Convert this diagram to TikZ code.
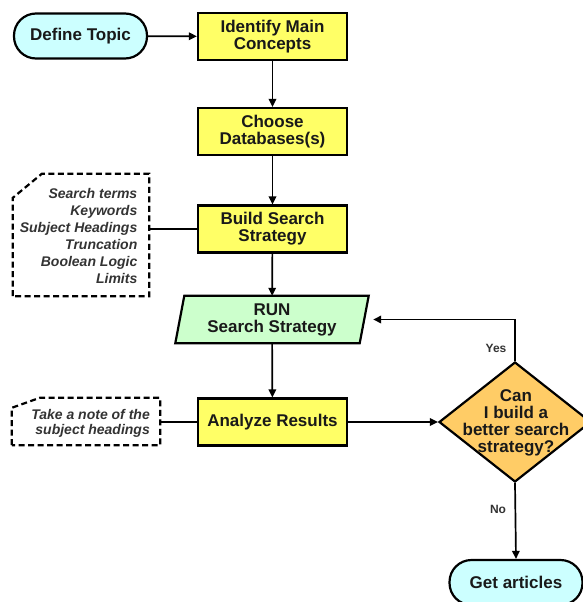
\documentclass[tikz,border=0pt]{standalone}
\usepackage{fontspec}
\setmainfont{Liberation Sans}
\usetikzlibrary{shapes.geometric,arrows.meta}
\definecolor{cyanfill}{HTML}{CCFFFF}
\definecolor{yellowfill}{HTML}{FFFF66}
\definecolor{greenfill}{HTML}{CCFFCC}
\definecolor{orangefill}{HTML}{FFCC66}
\definecolor{notegray}{HTML}{333333}
\tikzset{
  mainfont/.style={font=\bfseries\fontsize{17}{17}\selectfont, align=center, text=black!90},
  terminal/.style={mainfont, draw=black, line width=2.2pt, fill=cyanfill, rounded corners=22pt,
    minimum width=133pt, minimum height=45pt, inner sep=0pt},
  procbox/.style={mainfont, draw=black, line width=2.2pt, fill=yellowfill,
    minimum width=149pt, minimum height=47pt, inner sep=0pt},
  iobox/.style={mainfont, minimum width=184pt, minimum height=47pt, inner sep=0pt},
  decision/.style={diamond, draw=black, line width=2.2pt, fill=orangefill,
    minimum width=152pt, minimum height=120pt, inner sep=0pt},
  notebox/.style={minimum width=#1, inner sep=0pt},
  notetext/.style={font=\bfseries\itshape\fontsize{14}{17}\selectfont, align=right, text=notegray, inner sep=0pt},
  noteline/.style={draw=black, line width=2.2pt, dash pattern=on 6pt off 3.5pt},
  conn/.style={draw=black, line width=1.7pt},
  arr/.style={conn, -{Triangle[length=8pt,width=7.5pt]}},
  lbl/.style={font=\bfseries\fontsize{12}{12}\selectfont, text=notegray, inner sep=0pt},
}
\begin{document}
\begin{tikzpicture}[x=1pt,y=-1pt]
\useasboundingbox (0,0) rectangle (583,602);
\clip (0,0) rectangle (583,602);

% main column
\node[terminal] (define) at (80.5,36) {Define Topic};
\node[procbox] (identify) at (272.5,36.5) {Identify Main\\Concepts};
\node[procbox] (choose) at (272.5,131.5) {Choose\\Databases(s)};
\node[procbox] (build) at (272.5,229) {Build Search\\Strategy};
\node[iobox] (run) at (272,319.5) {RUN\\Search Strategy};
\path[draw=black, line width=2.2pt, fill=greenfill]
  ([xshift=4.5pt]run.north west) -- ([xshift=4.5pt]run.north east)
  -- ([xshift=-4.5pt]run.south east) -- ([xshift=-4.5pt]run.south west) -- cycle;
\node[iobox] at (run) {RUN\\Search Strategy};
\node[procbox] (analyze) at (272.5,422) {Analyze Results};
\node[decision] (q) at (515,422) {};
\node[mainfont, inner sep=0pt] (qtext) at (516,423) {Can\\I build a\\better search\\strategy?};
\node[terminal] (get) at (516,582.5) {Get articles};

% notes
\node[notebox=136pt, minimum height=122pt] (note1) at (81,235) {};
\path[noteline] (note1.south west) -- ([yshift=-24pt]note1.north west)
  -- ([xshift=29pt]note1.north west) -- (note1.north east) -- (note1.south east) -- cycle;
\node[notetext, anchor=east] (note1text) at (137.5,236)
  {Search terms\\Keywords\\Subject Headings\\Truncation\\Boolean Logic\\Limits};

\node[notebox=148pt, minimum height=47pt] (note2) at (86,421.5) {};
\path[noteline] (note2.south west) -- ([yshift=-10pt]note2.north west)
  -- ([xshift=28pt]note2.north west) -- (note2.north east) -- (note2.south east) -- cycle;
\node[notetext, anchor=east, font=\bfseries\itshape\fontsize{14}{15}\selectfont] (note2text) at (150,423.5)
  {Take a note of the\\subject headings};

% connectors
\draw[arr] (define) -- (identify);
\draw[arr] (identify) -- (choose);
\draw[arr] (choose) -- (build);
\draw[arr] (build) -- (run);
\draw[arr] (run) -- (analyze);
\draw[arr] (analyze) -- (q.west);
\draw[conn] (build.west) -- (build.west -| note1.east);
\draw[conn] (analyze.west) -- (analyze.west -| note2.east);
\coordinate (yesend) at ([xshift=9pt]run.east);
\draw[arr] (q.north) |- (yesend);
\draw[arr] (q.south) -- (get.north);

% labels
\node[lbl] (yes) at (496,348) {Yes};
\node[lbl] (no) at (498,509) {No};
\end{tikzpicture}
\end{document}
